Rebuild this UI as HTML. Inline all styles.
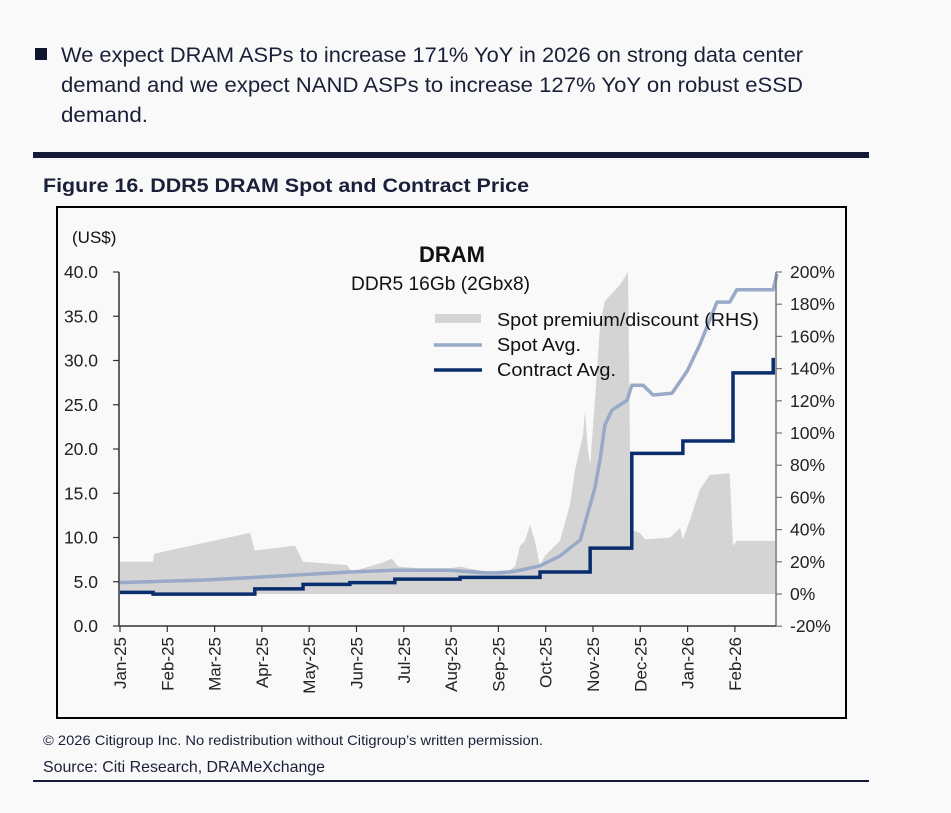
<!DOCTYPE html>
<html><head><meta charset="utf-8"><style>
html,body{margin:0;padding:0;background:#f9f9f9;}
svg{display:block;font-family:"Liberation Sans",Arial,sans-serif;}
</style></head><body>
<svg id="page" width="951" height="813" viewBox="0 0 951 813">
<rect width="951" height="813" fill="#f9f9f9"/>
<g fill="#1a2038" font-size="21">
<rect x="35" y="48" width="12" height="12" fill="#0f1630"/>
<text x="61" y="62" textLength="742" lengthAdjust="spacingAndGlyphs">We expect DRAM ASPs to increase 171% YoY in 2026 on strong data center</text>
<text x="61" y="92" textLength="742" lengthAdjust="spacingAndGlyphs">demand and we expect NAND ASPs to increase 127% YoY on robust eSSD</text>
<text x="61" y="122" textLength="87" lengthAdjust="spacingAndGlyphs">demand.</text>
</g>
<rect x="33" y="152" width="836" height="6" fill="#141a38"/>
<text x="43" y="192" font-size="19" font-weight="bold" fill="#1a2038" textLength="486" lengthAdjust="spacingAndGlyphs">Figure 16. DDR5 DRAM Spot and Contract Price</text>
<rect x="57" y="207" width="789" height="511" fill="none" stroke="#000" stroke-width="2"/>
<text x="72" y="243" font-size="17" fill="#111">(US$)</text>
<text x="452" y="262" font-size="22" font-weight="bold" fill="#111" text-anchor="middle">DRAM</text>
<text x="351" y="290" font-size="19" fill="#111" textLength="179" lengthAdjust="spacingAndGlyphs">DDR5 16Gb (2Gbx8)</text>
<g id="plot"></g>
<g id="axes"></g>
<g font-size="18" fill="#111">
<g><rect x="435" y="314" width="46" height="9" fill="#d4d4d4"/><text x="497" y="326" textLength="262" lengthAdjust="spacingAndGlyphs">Spot premium/discount (RHS)</text></g>
<g><line x1="434" y1="345" x2="482" y2="345" stroke="#98aac8" stroke-width="3.5"/><text x="497" y="351" textLength="84" lengthAdjust="spacingAndGlyphs">Spot Avg.</text></g>
<g><line x1="434" y1="370" x2="482" y2="370" stroke="#0a2d6e" stroke-width="3.5"/><text x="497" y="376" textLength="119" lengthAdjust="spacingAndGlyphs">Contract Avg.</text></g>
</g>
<text x="43" y="745" font-size="14" fill="#1a2038" textLength="500" lengthAdjust="spacingAndGlyphs">© 2026 Citigroup Inc. No redistribution without Citigroup’s written permission.</text>
<text x="43" y="772" font-size="16" fill="#1a2038" textLength="282" lengthAdjust="spacingAndGlyphs">Source: Citi Research, DRAMeXchange</text>
<rect x="33" y="780" width="836" height="2" fill="#141a38"/>
</svg>
<script>
// x values are in months since Jan-25
const monthLabels = ["Jan-25","Feb-25","Mar-25","Apr-25","May-25","Jun-25","Jul-25","Aug-25","Sep-25","Oct-25","Nov-25","Dec-25","Jan-26","Feb-26"];
const leftTicks = [0,5,10,15,20,25,30,35,40];
const rightTicks = [-20,0,20,40,60,80,100,120,140,160,180,200];
const spotX = [0,1.8,2.85,3.87,4.86,5.81,6.98,7.72,8.03,8.25,8.46,8.88,9.3,9.51,9.73,9.94,10.04,10.15,10.25,10.4,10.72,10.82,11.06,11.27,11.67,11.99,12.26,12.62,12.89,13.04,13.81,13.89];
const spotY = [4.9,5.2,5.5,5.8,6.1,6.3,6.3,6.0,6.0,6.1,6.3,6.8,7.9,8.8,9.7,13.7,15.6,18.8,22.7,24.4,25.5,27.2,27.2,26.1,26.3,28.8,31.8,36.6,36.6,38.0,38.0,39.8];
const contractSteps = [0,0.7,2.85,3.87,4.86,5.81,7.19,8.88,9.94,10.82,11.9,12.96,13.81];
const contractVals = [3.8,3.6,4.2,4.7,4.9,5.3,5.5,6.1,8.8,19.5,20.9,28.6,30.3];
const premX = [0,0.7,0.72,2.75,2.85,3.7,3.87,4.8,4.9,5.5,5.75,5.88,6.34,6.98,7.19,7.72,8.25,8.35,8.46,8.56,8.67,8.77,8.88,8.99,9.3,9.51,9.62,9.79,9.83,9.89,9.94,10.04,10.15,10.25,10.57,10.74,10.8,10.99,11.1,11.63,11.84,11.9,12.05,12.26,12.47,12.89,12.96,13.04,13.85];
const premY = [20,20,25,38,27,30,20,18,14,19,22,17,16,16,17,14,15,17,30,33,43,33,18,24,33,55,77,99,114,90,80,120,167,182,192,200,40,38,34,35,41,34,46,65,74,75,30,33,33];
const xS = m => 120 + m*47.3;
const yL = v => 626 - v*8.85;
const yR = p => 594 - p*1.61;
const NS = "http://www.w3.org/2000/svg";
const plot = document.getElementById('plot');
const axes = document.getElementById('axes');
function mk(tag, attrs, parent){const e=document.createElementNS(NS,tag);for(const k in attrs)e.setAttribute(k,attrs[k]);parent.appendChild(e);return e;}
let d = `M${xS(premX[0])},${yR(0)}`;
premX.forEach((m,i)=>{d+=` L${xS(m)},${yR(premY[i])}`;});
d += ` L${xS(premX[premX.length-1])},${yR(0)} Z`;
const area = mk('path',{d:d,fill:'#d4d4d4'},plot);


const sp = mk('polyline',{points:spotX.map((m,i)=>`${xS(m)},${yL(spotY[i])}`).join(' '),fill:'none',stroke:'#98aac8','stroke-width':3.5,'stroke-linejoin':'round'},plot);


let cp=[];
contractSteps.forEach((m,i)=>{ if(i>0) cp.push(`${xS(m)},${yL(contractVals[i-1])}`); cp.push(`${xS(m)},${yL(contractVals[i])}`);});
const cl = mk('polyline',{points:cp.join(' '),fill:'none',stroke:'#0a2d6e','stroke-width':3.5,'stroke-linejoin':'miter'},plot);


const la = mk('line',{x1:119,y1:yL(40),x2:119,y2:yL(0),stroke:'#333','stroke-width':1.5},axes);


leftTicks.forEach(v=>{
  mk('line',{x1:113,y1:yL(v),x2:119,y2:yL(v),stroke:'#333','stroke-width':1.2},axes);
  const t = mk('text',{x:98,y:yL(v)+6,'font-size':17.5,fill:'#222','text-anchor':'end'},axes);
  t.textContent = v.toFixed(1);
  
  
});
const ra = mk('line',{x1:776,y1:yR(200),x2:776,y2:yR(-20),stroke:'#777','stroke-width':1.5},axes);


rightTicks.forEach(p=>{
  mk('line',{x1:776,y1:yR(p),x2:782,y2:yR(p),stroke:'#777','stroke-width':1.2},axes);
  const t = mk('text',{x:790,y:yR(p)+6,'font-size':17.5,fill:'#222'},axes);
  t.textContent = p+'%';
  
  
});
const xa = mk('line',{x1:119,y1:626,x2:776,y2:626,stroke:'#333','stroke-width':1.5},axes);


monthLabels.forEach((lab,i)=>{
  const x = xS(i);
  mk('line',{x1:x,y1:626,x2:x,y2:632,stroke:'#333','stroke-width':1.2},axes);
  const t = mk('text',{x:0,y:0,'font-size':17,fill:'#222','text-anchor':'end',transform:`translate(${x+6},637) rotate(-90)`},axes);
  t.textContent = lab;
  
  
});
</script>
</body></html>
